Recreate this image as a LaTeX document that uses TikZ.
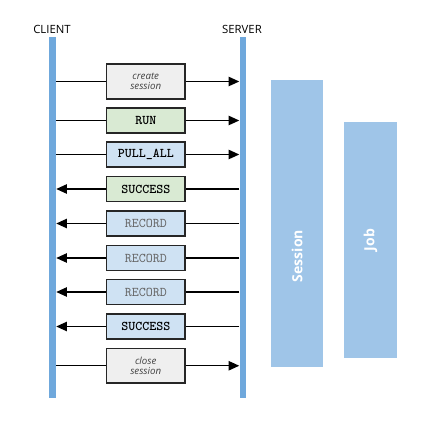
\documentclass[tikz,border=0pt]{standalone}
\usepackage{fontspec}
\setmainfont{Open Sans}
\usetikzlibrary{arrows.meta}
\definecolor{lifeblue}{HTML}{6FA8DC}
\definecolor{scopeblue}{HTML}{9FC5E8}
\definecolor{msggray}{HTML}{EFEFEF}
\definecolor{msggreen}{HTML}{D9EAD3}
\definecolor{msgblue}{HTML}{CFE2F3}
\tikzset{%
    lifeline/.style={fill=lifeblue,minimum width=5.2pt,minimum height=271pt,inner sep=0pt},
    party/.style={font=\fontsize{8.5}{10}\selectfont},
    msg/.style={draw=black!85,line width=1.2pt,minimum width=59pt,minimum height=18.5pt,inner sep=0pt,align=center},
    cmd/.style={msg,font=\ttfamily\bfseries\fontsize{10}{11}\selectfont},
    rec/.style={msg,fill=msgblue,text=black!60,font=\ttfamily\fontsize{10}{11}\selectfont},
    ctl/.style={msg,fill=msggray,minimum height=26pt,text=black!75,font=\itshape\fontsize{7.3}{8}\selectfont},
    scopebox/.style={fill=scopeblue,inner sep=0pt},
    scopetxt/.style={text=white,rotate=90,font=\bfseries\fontsize{10.5}{12}\selectfont},
    arr/.style={line width=1.1pt,-{Triangle[length=8pt,width=7pt]}},
    ln/.style={line width=1.1pt}
}

\begin{document}
\begin{tikzpicture}[x=0.75pt,y=-0.75pt]
        \useasboundingbox (0,0) rectangle (427,423);
        % lifelines
        \node[party] (client) at (52,29) {CLIENT};
        \node[party] (server) at (242,29) {SERVER};
        \node[lifeline] (cbar) at (52.5,217.5) {};
        \node[lifeline] (sbar) at (243,217.5) {};
        % session and job scopes
        \node[scopebox,minimum width=39pt,minimum height=215pt] (session) at (297,223.5) {};
        \node[scopebox,minimum width=39.5pt,minimum height=177pt] (job) at (370.5,240) {};
        \node[scopetxt] (sesstxt) at (297,256) {Session};
        \node[scopetxt] (jobtxt) at (370.5,240) {Job};
        % messages
        \node[ctl] (create) at (145.75,81.5) {create\\session};
        \node[cmd,fill=msggreen] (run) at (145.75,120.5) {RUN};
        \node[cmd,fill=msgblue] (pull) at (145.75,154.5) {PULL\_ALL};
        \node[cmd,fill=msggreen] (succ1) at (145.75,189) {SUCCESS};
        \node[rec] (rec1) at (145.75,223.5) {RECORD};
        \node[rec] (rec2) at (145.75,258) {RECORD};
        \node[rec] (rec3) at (145.75,292) {RECORD};
        \node[cmd,fill=msgblue] (succ2) at (145.75,326.5) {SUCCESS};
        \node[ctl] (close) at (145.75,365.75) {close\\session};
        % client to server
        \draw[ln] (cbar.east |- create) -- (create);
        \draw[arr] (create) -- (sbar.west |- create);
        \draw[ln] (cbar.east |- run) -- (run);
        \draw[arr] (run) -- (sbar.west |- run);
        \draw[ln] (cbar.east |- pull) -- (pull);
        \draw[arr] (pull) -- (sbar.west |- pull);
        \draw[ln] (cbar.east |- close) -- (close);
        \draw[arr] (close) -- (sbar.west |- close);
        % server to client
        \draw[ln] (sbar.west |- succ1) -- (succ1);
        \draw[arr] (succ1) -- (cbar.east |- succ1);
        \draw[ln] (sbar.west |- rec1) -- (rec1);
        \draw[arr] (rec1) -- (cbar.east |- rec1);
        \draw[ln] (sbar.west |- rec2) -- (rec2);
        \draw[arr] (rec2) -- (cbar.east |- rec2);
        \draw[ln] (sbar.west |- rec3) -- (rec3);
        \draw[arr] (rec3) -- (cbar.east |- rec3);
        \draw[ln] (sbar.west |- succ2) -- (succ2);
        \draw[arr] (succ2) -- (cbar.east |- succ2);
\end{tikzpicture}
\end{document}
